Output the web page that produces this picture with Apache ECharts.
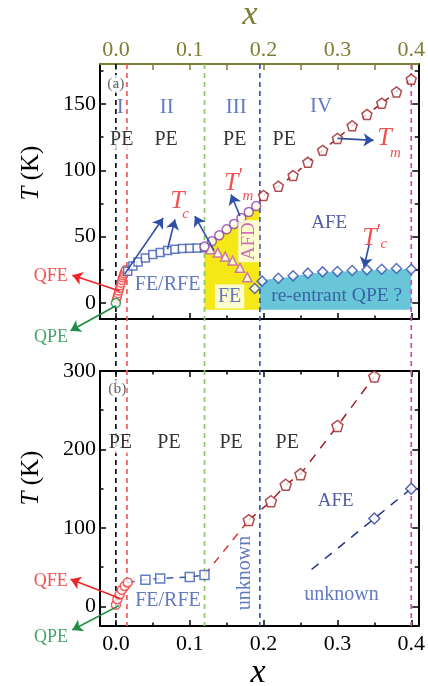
<!DOCTYPE html>
<html>
<head>
<meta charset="utf-8">
<script src="https://cdn.jsdelivr.net/npm/echarts@6/dist/echarts.min.js"></script>
<style>
html,body{margin:0;padding:0;background:#fff;}
#chart{width:428px;height:686px;}
</style>
</head>
<body>
<div id="chart"></div>
<script>
// ---------- shared composition axis ----------
const xTicks = [0.0, 0.1, 0.2, 0.3, 0.4];
const xMinorTicks = [0.05, 0.15, 0.25, 0.35];

// ---------- panel (a) ----------
const yTicksA = [0, 50, 100, 150];
const yMinorTicksA = [25, 75, 125, 175];
const qfeA_x = [0.001, 0.002, 0.003, 0.004, 0.005, 0.006, 0.007, 0.008, 0.009, 0.010, 0.011, 0.012, 0.013];
const qfeA_T = [3, 5, 7, 9, 11, 13, 15, 17, 19, 20.5, 22, 23.5, 25];
const qpeA_x = [0.0];
const qpeA_T = [0];
const tcA_x = [0.016, 0.023, 0.03, 0.04, 0.05, 0.06, 0.07, 0.08, 0.09, 0.10, 0.11, 0.12];
const tcA_T = [24, 28, 31, 34, 36.5, 38, 39.5, 40.5, 41, 41.3, 41.5, 41.7];
const tmPrimeA_x = [0.12, 0.13, 0.14, 0.15, 0.16, 0.17, 0.18, 0.19];
const tmPrimeA_T = [42.5, 46.5, 51, 55.5, 59.5, 64, 68.5, 73];
const tcFeA_x = [0.128, 0.138, 0.148, 0.158, 0.168, 0.178];
const tcFeA_T = [40.5, 38, 35, 32, 26.5, 19.5];
const tcPrimeA_x = [0.188, 0.198, 0.22, 0.24, 0.26, 0.28, 0.30, 0.32, 0.34, 0.36, 0.38, 0.40];
const tcPrimeA_T = [11, 16.5, 18.7, 20.5, 22.5, 23.5, 23.7, 24.5, 25, 25.5, 26, 25.5];
const tmA_x = [0.20, 0.22, 0.24, 0.26, 0.28, 0.30, 0.32, 0.34, 0.36, 0.38, 0.40];
const tmA_T = [81, 88, 96, 106, 115, 124, 133.5, 142, 150.5, 159, 168.5];
// phase-region outlines
const feRegion_x = [0.12, 0.13, 0.14, 0.15, 0.16, 0.17, 0.18, 0.19, 0.195];
const feRegion_T = [43, 46.5, 51, 55.5, 59.5, 64, 68.5, 73, 75];
const qpeRegion_x = [0.195, 0.20, 0.22, 0.24, 0.26, 0.28, 0.30, 0.32, 0.34, 0.36, 0.38, 0.40];
const qpeRegion_T = [17, 17.5, 18.5, 20, 22, 23, 23.5, 24, 24.5, 25, 25.5, 25.5];
const regionFloorT = -5;

// ---------- panel (b) ----------
const yTicksB = [0, 100, 200, 300];
const yMinorTicksB = [50, 150, 250];
const qfeB_x = [0.0, 0.002, 0.005, 0.008, 0.012, 0.016];
const qfeB_T = [2, 9, 15, 21, 26, 30.5];
const feB_x = [0.04, 0.06, 0.10, 0.12];
const feB_T = [34, 35.5, 37.5, 40];
const tmB_x = [0.18, 0.21, 0.23, 0.25, 0.30, 0.35];
const tmB_T = [110, 134, 155, 168.5, 230, 293];
const afeB_x = [0.35, 0.40];
const afeB_T = [112, 150];
const afeGuideB_x = [0.265, 0.405];
const afeGuideB_T = [47, 154];

// boundaries between composition regions I-IV (and x = 0.4)
const boundaryX = [0.0, 0.015, 0.12, 0.195, 0.40];
const boundaryColors = ['#111111', '#f05c5c', '#86cc62', '#3b55a8', '#c64fb3'];

const serif = 'Liberation Serif';
const olive = '#7d7d33';
const xMin = -0.0215, xMax = 0.4095;
const pts = (xs, ts) => xs.map((x, i) => [x, ts[i]]);

function xAxisDef(gridIndex, position, ticks, len, color, showLine, showLabel) {
  return {
    type: 'value', gridIndex, position, min: xMin, max: xMax,
    axisLine: { show: showLine, onZero: false, lineStyle: { color, width: 2 } },
    axisTick: { show: true, inside: true, length: len, customValues: ticks, lineStyle: { color, width: 1.5 } },
    axisLabel: { show: showLabel, customValues: ticks, formatter: v => v.toFixed(1), color, fontFamily: serif, fontSize: 22, margin: position === 'top' ? 3 : 7 },
    splitLine: { show: false }
  };
}
function yAxisDef(gridIndex, position, min, max, ticks, len, showLine, showLabel) {
  return {
    type: 'value', gridIndex, position, min, max,
    axisLine: { show: showLine, onZero: false, lineStyle: { color: '#000', width: 2 } },
    axisTick: { show: true, inside: true, length: len, customValues: ticks, lineStyle: { color: '#000', width: 1.5 } },
    axisLabel: { show: showLabel, customValues: ticks, formatter: v => String(v), color: '#000', fontFamily: serif, fontSize: 22, margin: 4 },
    splitLine: { show: false }
  };
}

const xAxes = [
  xAxisDef(0, 'bottom', xTicks, 6, '#000', true, false),
  xAxisDef(0, 'top', xTicks, 6, olive, true, true),
  xAxisDef(0, 'bottom', xMinorTicks, 3.5, '#000', false, false),
  xAxisDef(0, 'top', xMinorTicks, 6, olive, false, false),
  xAxisDef(1, 'bottom', xTicks, 6, '#000', true, true),
  xAxisDef(1, 'top', xTicks, 6, '#000', true, false),
  xAxisDef(1, 'bottom', xMinorTicks, 3.5, '#000', false, false),
  xAxisDef(1, 'top', xMinorTicks, 3.5, '#000', false, false)
];
const yAxes = [
  yAxisDef(0, 'left', -12, 180, yTicksA, 6, true, true),
  yAxisDef(0, 'right', -12, 180, yTicksA, 6, true, false),
  yAxisDef(0, 'left', -12, 180, yMinorTicksA, 3.5, false, false),
  yAxisDef(0, 'right', -12, 180, yMinorTicksA, 3.5, false, false),
  yAxisDef(1, 'left', -25, 300, yTicksB, 6, true, true),
  yAxisDef(1, 'right', -25, 300, yTicksB, 6, true, false),
  yAxisDef(1, 'left', -25, 300, yMinorTicksB, 3.5, false, false),
  yAxisDef(1, 'right', -25, 300, yMinorTicksB, 3.5, false, false)
];

const PANEL_A = { xAxisIndex: 0, yAxisIndex: 0 };
const PANEL_B = { xAxisIndex: 4, yAxisIndex: 4 };
const pentagon = 'path://M50,0 L97.6,34.5 L79.4,90.5 L20.6,90.5 L2.4,34.5 Z';

function markers(panel, data, symbol, size, color, extra) {
  return Object.assign({
    type: 'scatter', ...panel, data, symbol, symbolSize: size, z: 4, clip: false,
    itemStyle: { color: '#fff', borderColor: color, borderWidth: 1.5 }
  }, extra || {});
}
function dashed(panel, data, color, dash, width) {
  return {
    type: 'line', ...panel, data, showSymbol: false, z: 3, silent: true,
    lineStyle: { color, width: width || 1.5, type: dash }
  };
}
function region(panel, xs, ts, color) {
  const poly = [[xs[0], regionFloorT]].concat(pts(xs, ts), [[xs[xs.length - 1], regionFloorT]]);
  return {
    type: 'custom', ...panel, z: 1, silent: true, data: [0],
    renderItem: (params, api) => ({
      type: 'polygon',
      shape: { points: poly.map(p => api.coord(p)) },
      style: { fill: color }
    })
  };
}
function arrows(panel, list, color) {
  return {
    type: 'lines', coordinateSystem: 'cartesian2d', ...panel, z: 5, clip: false, silent: true,
    symbol: ['none', 'arrow'], symbolSize: 10,
    lineStyle: { color, width: 1.6, opacity: 1, curveness: 0 },
    data: list.map(c => ({ coords: c }))
  };
}
function texts(panel, list) {
  return {
    type: 'scatter', ...panel, z: 6, clip: false, silent: true, symbolSize: 1,
    itemStyle: { color: 'transparent' },
    data: list.map(a => ({
      value: [a[1], a[2]],
      label: Object.assign({
        show: true, position: 'inside', formatter: a[0], fontFamily: serif,
        align: 'center', verticalAlign: 'middle'
      }, a[3])
    }))
  };
}

const blue = '#3a58ae', navy = '#26348a', red = '#ee2626', green = '#1d8c45';
const roman = { fontSize: 21, color: '#3a58ae' };
const pe = { fontSize: 20, color: '#000', backgroundColor: '#fff', padding: [0, 1] };
const sym = { fontSize: 26, color: red, fontStyle: 'italic' };
const sub = { fontSize: 15, color: red, fontStyle: 'italic' };
const prime = { fontSize: 20, color: red, fontStyle: 'italic' };
const tag = { fontSize: 15.5, color: '#444', backgroundColor: '#fff', padding: [1, 0] };

const textsA = [
  ['(a)', 0.0, 165, tag],
  ['I', 0.006, 147, roman], ['II', 0.069, 147, roman], ['III', 0.163, 147, roman], ['IV', 0.278, 148, roman],
  ['PE', 0.008, 123, pe], ['PE', 0.068, 123, pe], ['PE', 0.161, 123, pe], ['PE', 0.228, 123, pe],
  ['T', 0.0833, 77, sym], ['c', 0.0944, 67, sub],
  ['T', 0.1563, 90.5, sym], ["'", 0.1675, 95, prime], ['m', 0.1787, 80.5, sub],
  ['T', 0.3638, 124.3, sym], ['m', 0.3785, 113, sub],
  ['T', 0.3436, 48.7, sym], ["'", 0.3546, 53, prime], ['c', 0.3627, 44.2, sub],
  ['AFD', 0.180, 46.5, { fontSize: 19, color: '#c24ea9', backgroundColor: '#fff', rotate: 90, padding: [1, 2] }],
  ['FE', 0.154, 5, { fontSize: 20, color: blue, backgroundColor: '#fff', padding: [2, 3] }],
  ['FE/RFE', 0.070, 14, { fontSize: 20, color: blue }],
  ['AFE', 0.289, 60, { fontSize: 19, color: navy }],
  ['re-entrant QPE ?', 0.299, 5.5, { fontSize: 19.5, color: '#2d4a9a' }],
  ['QFE', -0.0883, 20.5, { fontSize: 18, color: red }],
  ['QPE', -0.088, -26, { fontSize: 18, color: green }]
];
const textsB = [
  ['(b)', 0.002, 277.7, tag],
  ['PE', 0.006, 208, pe], ['PE', 0.072, 208, pe], ['PE', 0.156, 208, pe], ['PE', 0.232, 208, pe],
  ['FE/RFE', 0.0705, 7.5, { fontSize: 20, color: blue }],
  ['unknown', 0.175, 42.6, { fontSize: 20, color: blue, rotate: 90 }],
  ['unknown', 0.3055, 14.5, { fontSize: 20, color: blue }],
  ['AFE', 0.2977, 133.7, { fontSize: 19, color: navy }],
  ['QFE', -0.0883, 31.5, { fontSize: 18, color: red }],
  ['QPE', -0.088, -39, { fontSize: 18, color: green }]
];

const arrowsA_blue = [
  [[0.012, 22], [0.064, 64]],
  [[0.070, 40.5], [0.080, 63]],
  [[0.133, 39.5], [0.107, 65.5]],
  [[0.168, 65.5], [0.156, 81.7]],
  [[0.300, 124], [0.349, 122.5]],
  [[0.343, 44], [0.336, 27]]
];

const series = [
  // panel (a)
  region(PANEL_A, feRegion_x, feRegion_T, '#f4e816'),
  region(PANEL_A, qpeRegion_x, qpeRegion_T, '#68c6d8'),
  dashed(PANEL_A, pts(tmA_x, tmA_T), '#9b1f23', [5, 9], 1.5),
  markers(PANEL_A, pts(qfeA_x, qfeA_T), 'circle', 8, '#f03a3a'),
  markers(PANEL_A, pts(qpeA_x, qpeA_T), 'circle', 9, green),
  markers(PANEL_A, pts(tcA_x, tcA_T), 'rect', 8, '#3c5cb4'),
  markers(PANEL_A, pts(tmPrimeA_x, tmPrimeA_T), 'circle', 9, '#8c3fa6'),
  markers(PANEL_A, pts(tcFeA_x, tcFeA_T), 'triangle', 9, '#c45ab6'),
  markers(PANEL_A, pts(tcPrimeA_x, tcPrimeA_T), 'diamond', 10, '#3550b0'),
  markers(PANEL_A, pts(tmA_x, tmA_T), pentagon, 10, '#9b1f23'),
  arrows(PANEL_A, arrowsA_blue, '#2f4fa6'),
  arrows(PANEL_A, [[[0.005, 9], [-0.059, 21]]], red),
  arrows(PANEL_A, [[[0.0, -2], [-0.0614, -20.8]]], green),
  texts(PANEL_A, textsA),
  // panel (b)
  dashed(PANEL_B, [[qfeB_x[qfeB_x.length - 1], qfeB_T[qfeB_T.length - 1]]].concat(pts(feB_x, feB_T)), '#3a58ae', [7, 6], 1.5),
  dashed(PANEL_B, [[feB_x[feB_x.length - 1], feB_T[feB_T.length - 1]], [tmB_x[0], tmB_T[0]]], '#e03434', [8, 7], 1.5),
  dashed(PANEL_B, pts(tmB_x, tmB_T), '#9b1f23', [9, 8], 1.5),
  dashed(PANEL_B, pts(afeGuideB_x, afeGuideB_T), '#26348a', [9, 8], 1.5),
  markers(PANEL_B, pts(qfeB_x, qfeB_T), 'circle', 9, '#f03a3a'),
  markers(PANEL_B, pts(feB_x, feB_T), 'rect', 9, '#3c5cb4'),
  markers(PANEL_B, pts(tmB_x, tmB_T), pentagon, 11, '#9b1f23'),
  markers(PANEL_B, pts(afeB_x, afeB_T), 'diamond', 11, '#2a3a9a'),
  arrows(PANEL_B, [[[0.006, 10], [-0.0614, 34.5]]], red),
  arrows(PANEL_B, [[[0.004, 1], [-0.059, -30]]], green),
  texts(PANEL_B, textsB)
];

const chart = echarts.init(document.getElementById('chart'), null, { renderer: 'canvas' });
chart.setOption({
  animation: false,
  backgroundColor: '#fff',
  grid: [
    { left: 100, top: 64, width: 320, height: 255 },
    { left: 100, top: 371, width: 319, height: 255 }
  ],
  xAxis: xAxes,
  yAxis: yAxes,
  series
});

// dashed region boundaries running through both panels, plus axis titles
const yTop = chart.convertToPixel({ yAxisIndex: 0 }, 180);
const yBottom = chart.convertToPixel({ yAxisIndex: 4 }, -25);
const graphics = boundaryX.map((bx, i) => {
  const px = chart.convertToPixel({ xAxisIndex: 0 }, bx);
  return {
    type: 'line', z: 2, silent: true,
    shape: { x1: px, y1: yTop, x2: px, y2: yBottom },
    style: { stroke: boundaryColors[i], lineWidth: 1.7, lineDash: [5, 4] }
  };
});
const titleRich = {
  i: { fontFamily: serif, fontSize: 25, fontStyle: 'italic', fill: '#000' },
  n: { fontFamily: serif, fontSize: 25, fill: '#000' }
};
graphics.push(
  { type: 'text', x: 250, y: 15, z: 10, style: { text: 'x', fontFamily: serif, fontSize: 34, fontStyle: 'italic', fill: olive, align: 'center', verticalAlign: 'middle' } },
  { type: 'text', x: 258, y: 673, z: 10, style: { text: 'x', fontFamily: serif, fontSize: 34, fontStyle: 'italic', fill: '#000', align: 'center', verticalAlign: 'middle' } },
  { type: 'text', x: 31, y: 173, z: 10, rotation: Math.PI / 2, style: { text: '{i|T}{n| (K)}', rich: titleRich, align: 'center', verticalAlign: 'middle' } },
  { type: 'text', x: 31, y: 478, z: 10, rotation: Math.PI / 2, style: { text: '{i|T}{n| (K)}', rich: titleRich, align: 'center', verticalAlign: 'middle' } }
);
chart.setOption({ graphic: graphics });
</script>
</body>
</html>
